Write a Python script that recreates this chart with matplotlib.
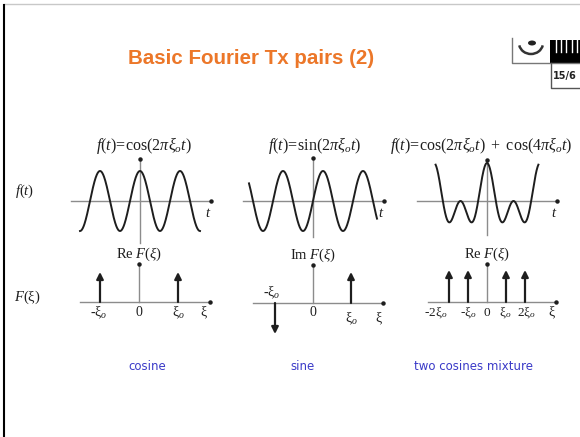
import numpy as np
import matplotlib
matplotlib.use('Agg')
from matplotlib import pyplot as plt
from matplotlib.patches import Rectangle, Arc, Ellipse
from matplotlib.lines import Line2D

plt.rcParams['mathtext.fontset'] = 'custom'
plt.rcParams['mathtext.rm'] = 'Liberation Serif'
plt.rcParams['mathtext.it'] = 'Liberation Serif:italic'
plt.rcParams['mathtext.bf'] = 'Liberation Serif:bold'

W, H = 580, 437

# time signals, t in units of 1/xi0
xi0 = 1.0
cosT = np.linspace(-1.5, 1.5, 400)
sinT = np.linspace(-1.6, 1.6, 400)
mixT = np.linspace(-0.97, 0.97, 400)
cosF = np.cos(2 * np.pi * xi0 * cosT)
sinF = np.sin(2 * np.pi * xi0 * sinT)
mixF = np.cos(2 * np.pi * xi0 * mixT) + np.cos(4 * np.pi * xi0 * mixT)

# spectra: delta positions (in xi0) and weights
cosFreqs = [-1, 1]
cosAmps = [0.5, 0.5]
sinFreqs = [-1, 1]
sinAmps = [-0.5, 0.5]
mixFreqs = [-2, -1, 1, 2]
mixAmps = [0.5, 0.5, 0.5, 0.5]

signalTitles = [r'$f(t)\!=\!\mathrm{cos}(2\pi\xi_o t)$',
                r'$f(t)\!=\!\mathrm{sin}(2\pi\xi_o t)$',
                r'$f(t)\!=\!\mathrm{cos}(2\pi\xi_o t)\ +\ \mathrm{cos}(4\pi\xi_o t)$']
spectrumTitles = [r'$\mathrm{Re}\ F(\xi)$', r'$\mathrm{Im}\ F(\xi)$', r'$\mathrm{Re}\ F(\xi)$']
captions = ['cosine', 'sine', 'two cosines mixture']

axisGray = '#8c8c8c'
ink = '#1e1e1e'
blue = '#3a3ac8'
orange = '#ec7729'
serif = 'Liberation Serif'

fig = plt.figure(figsize=(W / 100, H / 100), dpi=100)


def pixelAxes(cx, cy, sx, sy, left, right, top, bottom):
    """Axes whose data origin sits at pixel (cx, cy), sx/sy pixels per unit."""
    ax = fig.add_axes([left / W, 1 - bottom / H, (right - left) / W, (bottom - top) / H])
    ax.set_xlim((left - cx) / sx, (right - cx) / sx)
    ax.set_ylim((cy - bottom) / sy, (cy - top) / sy)
    ax.axis('off')
    return ax


def drawFrame(ax, x0, x1, y0, y1):
    ax.plot([x0, x1], [0, 0], color=axisGray, lw=1.0)
    ax.plot([0, 0], [y0, y1], color=axisGray, lw=1.0)
    ax.plot([x1], [0], 'o', color=ink, ms=2.2)
    ax.plot([0], [y1], 'o', color=ink, ms=2.2)


def tickLabel(ax, x, text, dx=0, dy=-11, size=10):
    # dx, dy in pixels (1 px = 0.72 pt at 100 dpi)
    ax.annotate(text, (x, 0), xytext=(dx * 0.72, dy * 0.72), textcoords='offset points',
                ha='center', va='center', fontsize=size, color=ink, family=serif)


def arrows(ax, freqs, amps):
    for f, a in zip(freqs, amps):
        ax.annotate('', xy=(f, a), xytext=(f, 0),
                    arrowprops=dict(arrowstyle='-|>', color=ink, lw=1.6,
                                    mutation_scale=10, shrinkA=0, shrinkB=0))


# --- time-domain row ---
timeSetups = [
    (cosT, cosF, dict(cx=140, cy=201, sx=40, sy=30), (-1.725, 1.775, -1.4, 1.4)),
    (sinT, sinF, dict(cx=313, cy=201, sx=40, sy=30), (-1.75, 1.775, -1.2, 1.43)),
    (mixT, mixF, dict(cx=487, cy=201, sx=53, sy=19), (-1.32, 1.32, -1.79, 2.16)),
]
titleX = [144, 315, 481]
for i, (t, f, sc, (x0, x1, y0, y1)) in enumerate(timeSetups):
    left = sc['cx'] + x0 * sc['sx'] - 6
    right = sc['cx'] + x1 * sc['sx'] + 6
    ax = pixelAxes(left=left, right=right, top=130, bottom=250, **sc)
    drawFrame(ax, x0, x1, y0, y1)
    ax.plot(t, f, color=ink, lw=1.4)
    ax.annotate(r'$t$', (x1, 0), xytext=(-2, -8), textcoords='offset points',
                ha='center', va='center', fontsize=10.5, color=ink)
    fig.text(titleX[i] / W, 1 - 146 / H, signalTitles[i], ha='center', va='center',
             fontsize=11.5, color=ink)

# --- frequency-domain row ---
specSetups = [
    (cosFreqs, cosAmps, dict(cx=139, cy=302, sx=39, sy=60), (-1.51, 1.82, 0.633)),
    (sinFreqs, sinAmps, dict(cx=313, cy=303, sx=38, sy=62), (-1.58, 1.84, 0.61)),
    (mixFreqs, mixAmps, dict(cx=487, cy=302, sx=19, sy=64), (-3.1, 3.63, 0.59)),
]
specAxes = []
for i, (fr, am, sc, (x0, x1, ytop)) in enumerate(specSetups):
    left = sc['cx'] + x0 * sc['sx'] - 12
    right = sc['cx'] + x1 * sc['sx'] + 8
    ax = pixelAxes(left=left, right=right, top=240, bottom=345, **sc)
    drawFrame(ax, x0, x1, 0, ytop)
    arrows(ax, fr, am)
    ax.text(0, ytop + 10 / sc['sy'], spectrumTitles[i], ha='center', va='center',
            fontsize=10.5, color=ink)
    specAxes.append((ax, x1))

ax, x1 = specAxes[0]
tickLabel(ax, -1, r'-$\mathrm{\xi}_o$', dx=-1)
tickLabel(ax, 0, r'$\mathit{0}$', dy=-10)
tickLabel(ax, 1, r'$\mathrm{\xi}_o$')
tickLabel(ax, x1 - 0.15, r'$\mathrm{\xi}$')

ax, x1 = specAxes[1]
tickLabel(ax, -1, r'-$\mathrm{\xi}_o$', dx=-3, dy=10)
tickLabel(ax, 0, r'$\mathit{0}$', dy=-9)
tickLabel(ax, 1, r'$\mathrm{\xi}_o$', dy=-16)
tickLabel(ax, x1 - 0.1, r'$\mathrm{\xi}$', dy=-16)

ax, x1 = specAxes[2]
mixLabels = [r'-2$\mathrm{\xi}_o$', r'-$\mathrm{\xi}_o$', r'$\mathit{0}$', r'$\mathrm{\xi}_o$',
             r'2$\mathrm{\xi}_o$']
mixShift = [-13, 0, 0, -1, 1]
for f, lab, dx in zip([-2, -1, 0, 1, 2], mixLabels, mixShift):
    tickLabel(ax, f, lab, dx=dx, size=9.5)
tickLabel(ax, x1 - 0.2, r'$\mathrm{\xi}$')

# row labels
fig.text(25 / W, 1 - 191 / H, r'$f(t)$', ha='center', va='center', fontsize=10.5, color=ink)
fig.text(27 / W, 1 - 297 / H, r'$F(\mathrm{\xi})$', ha='center', va='center', fontsize=10.5,
         color=ink)

# captions
for x, c in zip([147, 303, 473], captions):
    fig.text(x / W, 1 - 367 / H, c, ha='center', va='center', fontsize=8.5,
             color=blue, family='DejaVu Sans')

# slide title
fig.text(251 / W, 1 - 59 / H, 'Basic Fourier Tx pairs (2)', ha='center', va='center',
         fontsize=14.8, fontweight='bold', color=orange, family='Liberation Sans')

# page frame
fig.add_artist(Line2D([4 / W, 1], [1 - 4 / H, 1 - 4 / H], color='#c8c8c8', lw=1.0))
fig.add_artist(Line2D([4 / W, 4 / W], [0, 1 - 5 / H], color='black', lw=1.5))

# logo in the corner
fig.add_artist(Line2D([512 / W, 512 / W, 580 / W], [1 - 38 / H, 1 - 63 / H, 1 - 63 / H],
                      color='#777777', lw=1.0))
fig.add_artist(Rectangle((550 / W, 1 - 63 / H), 30 / W, 23 / H, color='black', lw=0))
for x in [556, 561, 566, 572, 577]:
    fig.add_artist(Line2D([x / W, x / W], [1 - 40 / H, 1 - 52 / H], color='white', lw=1.0))
fig.add_artist(Line2D([551 / W, 551 / W, 580 / W], [1 - 63 / H, 1 - 88 / H, 1 - 88 / H],
                      color='#555555', lw=1.0))
fig.text(553 / W, 1 - 76 / H, '15/6', ha='left', va='center', fontsize=7,
         fontweight='bold', color='#222222', family='DejaVu Sans')
fig.add_artist(Arc((531 / W, 1 - 43 / H), 24 / W, 22 / H, theta1=195, theta2=345,
                   color='#333333', lw=1.8))
fig.add_artist(Ellipse((532 / W, 1 - 43 / H), 8 / W, 5 / H, color='#222222', lw=0))

fig.savefig('out.png', dpi=100)
